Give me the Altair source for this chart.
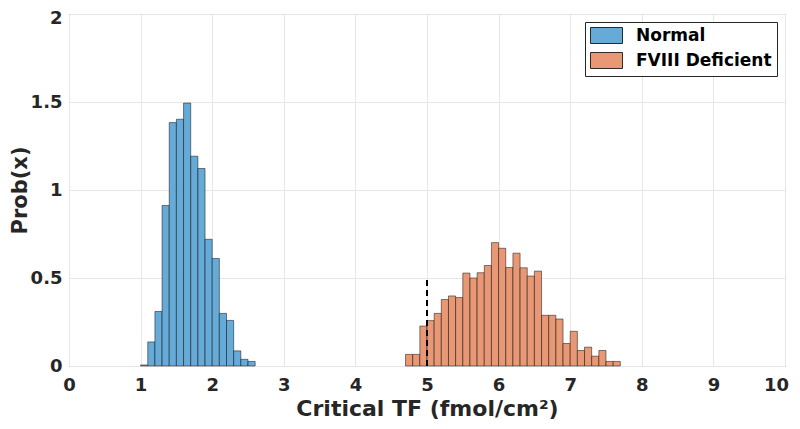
import altair as alt
import pandas as pd

# Normal: bins of width 0.1 starting at 1.0
normal_start = 1.0
normal_vals = [0.006, 0.137, 0.31, 0.912, 1.383, 1.402, 1.494, 1.192, 1.122,
               0.72, 0.611, 0.299, 0.259, 0.086, 0.038, 0.026]
# FVIII Deficient: bins of width 0.1 starting at 4.7
fviii_start = 4.7
fviii_vals = [0.066, 0.066, 0.227, 0.258, 0.299, 0.378, 0.398, 0.389, 0.528, 0.50,
              0.53, 0.571, 0.701, 0.669, 0.56, 0.641, 0.558, 0.511, 0.539, 0.288,
              0.288, 0.267, 0.128, 0.197, 0.088, 0.107, 0.056, 0.088, 0.026, 0.026]
bin_width = 0.1
series = ["Normal", "FVIII Deficient"]
colors = ["#66AAD7", "#E89875"]

threshold_x = [5.0]
threshold_top = [0.5]

rows = []
for name, start, vals in [(series[0], normal_start, normal_vals),
                          (series[1], fviii_start, fviii_vals)]:
    for i, v in enumerate(vals):
        x0 = round(start + i * bin_width, 4)
        rows.append({"x0": x0, "x1": round(x0 + bin_width, 4), "p": v, "series": name})
df = pd.DataFrame(rows)
rule_df = pd.DataFrame({"x": threshold_x, "y0": [0.0], "y1": threshold_top})

FONT = "DejaVu Sans"

bars = alt.Chart(df).mark_rect(stroke="#000000", strokeOpacity=0.6, strokeWidth=0.8).encode(
    x=alt.X("x0:Q", scale=alt.Scale(domain=[0, 10], nice=False),
            axis=alt.Axis(values=list(range(0, 11)), format="d", title="Critical TF (fmol/cm²)",
                          labelFlush=False,
                          labelOffset={"condition": {"test": "datum.value == 10", "value": -9}, "value": 0})),
    x2="x1:Q",
    y=alt.Y("p:Q", scale=alt.Scale(domain=[0, 2], nice=False),
            axis=alt.Axis(values=[0, 0.5, 1, 1.5, 2], format="~g", title="Prob(x)",
                          labelFlush=False,
                          labelOffset={"condition": {"test": "datum.value == 2", "value": 4}, "value": 0})),
    y2=alt.datum(0),
    color=alt.Color("series:N", scale=alt.Scale(domain=series, range=colors),
                    legend=alt.Legend(title=None, orient="top-right", offset=8,
                                      symbolType="M-2,-1H2V1H-2Z", symbolSize=256,
                                      symbolOffset=8, labelOffset=21,
                                      symbolStrokeColor="#000000", symbolStrokeWidth=0.8,
                                      symbolOpacity=1, labelFont=FONT, labelFontWeight="bold",
                                      labelFontSize=17, labelColor="#000000",
                                      padding=5, rowPadding=4, fillColor="white",
                                      strokeColor="#262626")),
)

rule = alt.Chart(rule_df).mark_rule(color="black", strokeWidth=2, strokeDash=[6, 4]).encode(
    x="x:Q", y="y0:Q", y2="y1:Q"
)

chart = alt.layer(bars, rule).properties(
    width=716, height=352,
    autosize=alt.AutoSizeParams(type="none"),
    padding={"left": 61, "top": 6, "right": 6, "bottom": 55},
).configure_view(
    stroke="#8c8c8c", strokeWidth=1
).configure_axis(
    domain=False, ticks=False, grid=True, gridColor="#e6e6e6", gridWidth=1,
    labelFont=FONT, labelFontWeight="bold", labelFontSize=18, labelColor="#262626",
    titleFont=FONT, titleFontWeight="bold", titleFontSize=22, titleColor="#262626",
).configure_axisX(
    labelPadding=10, titlePadding=4
).configure_axisY(
    labelPadding=7, titlePadding=0, titleFontSize=21
)

chart.save("out.html", embed_options={"renderer": "svg", "actions": False})
